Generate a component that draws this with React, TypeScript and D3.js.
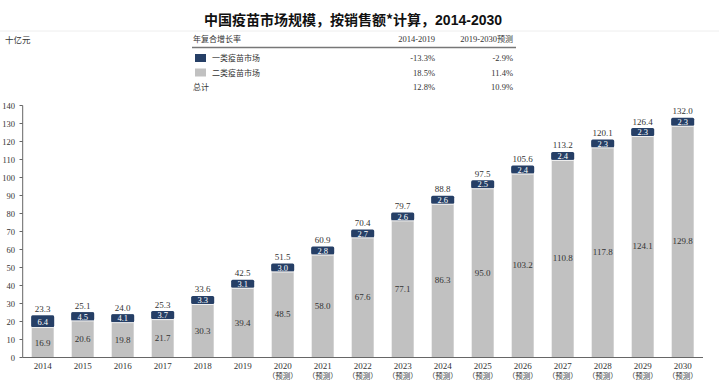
import React from "react";
import * as d3 from "d3";

const years = ["2014","2015","2016","2017","2018","2019","2020","2021","2022","2023","2024","2025","2026","2027","2028","2029","2030"];
const forecastFrom = 2020;
const class2 = [16.9,20.6,19.8,21.7,30.3,39.4,48.5,58.0,67.6,77.1,86.3,95.0,103.2,110.8,117.8,124.1,129.8];
const class1 = [6.4,4.5,4.1,3.7,3.3,3.1,3.0,2.8,2.7,2.6,2.6,2.5,2.4,2.4,2.3,2.3,2.3];
const totals = [23.3,25.1,24.0,25.3,33.6,42.5,51.5,60.9,70.4,79.7,88.8,97.5,105.6,113.2,120.1,126.4,132.0];
const yTicks = [0,10,20,30,40,50,60,70,80,90,100,110,120,130,140];
const tableHeader = ["年复合增长率","2014-2019","2019-2030预测"];
const tableRows = [
  { name: "一类疫苗市场", a: "-13.3%", b: "-2.9%", swatch: "dark" },
  { name: "二类疫苗市场", a: "18.5%", b: "11.4%", swatch: "grey" },
  { name: "总计", a: "12.8%", b: "10.9%", swatch: "" },
];

const DARK = "#263f66";
const GREY = "#c1c1c1";
const SERIF = "'Liberation Serif', 'DejaVu Serif', serif";
const CJK = "'Noto Sans CJK SC', sans-serif";

export default function App() {
  const W = 719, H = 387;
  const x = d3.scaleBand<string>().domain(years).range([22.7, 702.7]).paddingInner(0.45).paddingOuter(0.225);
  const y = d3.scaleLinear().domain([0, 140]).range([357.5, 105.5]);
  const bw = x.bandwidth();

  return (
    <svg width={W} height={H} style={{ position: "absolute", left: 0, top: 0, background: "#fff" }}>
      <text x={353} y={25} textAnchor="middle" fontFamily={CJK} fontWeight="bold" fontSize={14} fill="#111">
        中国疫苗市场规模，按销售额*计算，<tspan fontFamily="'Liberation Sans', Arial, sans-serif">2014-2030</tspan>
      </text>
      <line x1={0} x2={W} y1={31} y2={31} stroke="#eeeeee" strokeWidth={1} />
      <text x={5} y={43} fontFamily={CJK} fontSize={8.5} fill="#333">十亿元</text>

      {/* table */}
      <text x={193} y={42} fontFamily={CJK} fontSize={8} fill="#333">{tableHeader[0]}</text>
      <text x={435} y={42} textAnchor="end" fontFamily={SERIF} fontSize={8.5} fill="#333">{tableHeader[1]}</text>
      <text x={513} y={42} textAnchor="end" fontFamily={SERIF} fontSize={8.5} fill="#333">
        2019-2030<tspan fontFamily={CJK} fontSize={8}>预测</tspan>
      </text>
      <line x1={192} x2={516} y1={47.5} y2={47.5} stroke="#777" strokeWidth={1.5} />
      {tableRows.map((r, i) => {
        const cy = 58 + i * 14.5;
        const tx = r.swatch ? 212 : 193;
        return (
          <g key={r.name}>
            {r.swatch && <rect x={195} y={cy - 4} width={11} height={8} fill={r.swatch === "dark" ? DARK : GREY} />}
            <text x={tx} y={cy + 3} fontFamily={CJK} fontSize={8} fill="#333">{r.name}</text>
            <text x={435} y={cy + 3} textAnchor="end" fontFamily={SERIF} fontSize={8.5} fill="#333">{r.a}</text>
            <text x={513} y={cy + 3} textAnchor="end" fontFamily={SERIF} fontSize={8.5} fill="#333">{r.b}</text>
          </g>
        );
      })}

      {/* y axis */}
      <line x1={22.7} x2={22.7} y1={y(140)} y2={y(0)} stroke="#666" strokeWidth={1} />
      {yTicks.map((t) => (
        <g key={t}>
          <line x1={19.5} x2={22.7} y1={y(t)} y2={y(t)} stroke="#666" />
          <text x={15} y={y(t) + 3} textAnchor="end" fontFamily={SERIF} fontSize={8.5} fill="#333">{t}</text>
        </g>
      ))}

      {/* bars */}
      {years.map((yr, i) => {
        const bx = x(yr)!;
        const cx = bx + bw / 2;
        const g2Top = y(class2[i]);
        const segTop = y(class2[i] + class1[i]);
        const segMid = (g2Top + segTop) / 2;
        const boxH = Math.max(g2Top - segTop, 8);
        const boxTop = segMid - boxH / 2;
        return (
          <g key={yr}>
            <rect x={bx} y={g2Top} width={bw} height={y(0) - g2Top} fill={GREY} />
            <rect x={bx} y={segTop} width={bw} height={g2Top - segTop} fill={DARK} />
            <rect x={bx - 0.5} y={boxTop} width={bw + 1} height={boxH} fill={DARK} rx={1.5} />
            <line x1={bx} x2={bx + bw} y1={boxTop + boxH + 0.5} y2={boxTop + boxH + 0.5} stroke="#fff" strokeWidth={0.8} />
            <text x={cx} y={segMid + 3.2} textAnchor="middle" fontFamily={SERIF} fontSize={8.5} fill="#fff">{class1[i].toFixed(1)}</text>
            <text x={cx} y={(g2Top + y(0)) / 2 + 3.5} textAnchor="middle" fontFamily={SERIF} fontSize={9} fill="#333">{class2[i].toFixed(1)}</text>
            <text x={cx} y={boxTop - 3.5} textAnchor="middle" fontFamily={SERIF} fontSize={9} fill="#333">{totals[i].toFixed(1)}</text>
            <text x={cx} y={369} textAnchor="middle" fontFamily={SERIF} fontSize={9} fill="#333">{yr}</text>
            {+yr >= forecastFrom && (
              <text x={cx} y={379} textAnchor="middle" fontFamily={CJK} fontSize={7.5} fill="#333">（预测）</text>
            )}
          </g>
        );
      })}
      <line x1={22.7} x2={703} y1={y(0)} y2={y(0)} stroke="#666" strokeWidth={1} />
    </svg>
  );
}
